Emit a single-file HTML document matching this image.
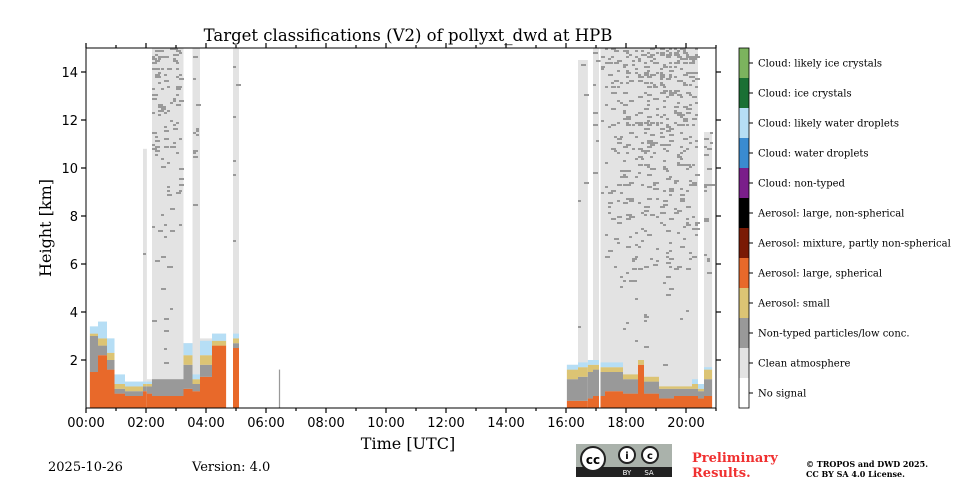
<!DOCTYPE html>
<html><head><meta charset="utf-8"><style>
body{margin:0;background:#fff;width:960px;height:480px;overflow:hidden;font-family:"DejaVu Serif",serif}
</style></head><body>
<svg id="chart" width="960" height="480" xmlns="http://www.w3.org/2000/svg">
<text x="408" y="41" text-anchor="middle" font-family="DejaVu Serif, serif" font-size="16.5">Target classifications (V2) of pollyxt_dwd at HPB</text>
<g id="plot"></g>
<g id="axes"></g>
<text transform="translate(51,228) rotate(-90)" text-anchor="middle" font-family="DejaVu Serif, serif" font-size="16">Height [km]</text>
<text x="408" y="449" text-anchor="middle" font-family="DejaVu Serif, serif" font-size="16">Time [UTC]</text>
<g id="cbar"></g>
<text x="48" y="471" font-family="DejaVu Serif, serif" font-size="13">2025-10-26</text>
<text x="192" y="471" font-family="DejaVu Serif, serif" font-size="13">Version: 4.0</text>
<g>
<rect x="576" y="444" width="96" height="33" fill="#aab2ab"/>
<rect x="576" y="467" width="96" height="10" fill="#222"/>
<circle cx="593" cy="459" r="12" fill="#fff" stroke="#222" stroke-width="2"/>
<text x="593" y="464" text-anchor="middle" font-family="DejaVu Sans, sans-serif" font-weight="bold" font-size="12">cc</text>
<circle cx="627" cy="455" r="8" fill="#fff" stroke="#222" stroke-width="2"/>
<text x="627" y="459" text-anchor="middle" font-family="DejaVu Sans, sans-serif" font-weight="bold" font-size="10">i</text>
<circle cx="650" cy="455" r="8" fill="#fff" stroke="#222" stroke-width="2"/>
<text x="650" y="459" text-anchor="middle" font-family="DejaVu Sans, sans-serif" font-weight="bold" font-size="10">c</text>
<text x="627" y="475" text-anchor="middle" fill="#fff" font-family="DejaVu Sans, sans-serif" font-size="7">BY</text>
<text x="649" y="475" text-anchor="middle" fill="#fff" font-family="DejaVu Sans, sans-serif" font-size="7">SA</text>
</g>
<text x="692" y="462" fill="#f03030" font-family="DejaVu Serif, serif" font-weight="bold" font-size="13">Preliminary</text>
<text x="692" y="477" fill="#f03030" font-family="DejaVu Serif, serif" font-weight="bold" font-size="13">Results.</text>
<text x="806" y="467" font-family="DejaVu Serif, serif" font-weight="bold" font-size="8">© TROPOS and DWD 2025.</text>
<text x="806" y="477" font-family="DejaVu Serif, serif" font-weight="bold" font-size="8">CC BY SA 4.0 License.</text>
</svg>
<script>
// data: time segments (hours UTC), heights in km
const segStart=[0.13,0.4,0.7,0.95,1.3,1.9,2.03,2.2,3.25,3.55,3.8,4.2,4.9,6.43,16.03,16.4,16.73,16.9,17.15,17.3,17.9,18.4,18.6,19.1,19.6,20.2,20.4,20.6];
const segEnd=  [0.4,0.7,0.95,1.3,1.9,2.03,2.2,3.25,3.55,3.8,4.2,4.67,5.1,6.47,16.4,16.73,16.9,17.1,17.3,17.9,18.4,18.6,19.1,19.6,20.2,20.4,20.6,20.87];
const cleanTop=[3.4,3.6,2.9,1.3,1.1,10.8,1.2,15,2.7,15,2.9,3.1,15,1.6,1.8,14.5,2.0,15,15,15,15,15,15,15,15,15,0.9,11.5];
const speckle= [0,0,0,0,0,0.015,0,0.12,0,0.04,0,0,0.015,0,0,0.015,0,0.03,0.06,0.11,0.14,0.14,0.17,0.19,0.2,0.2,0,0.09];
const orangeTop=[1.5,2.2,1.6,0.6,0.5,0.7,0.6,0.5,0.8,0.7,1.3,2.6,2.5,0,0.3,0.3,0.4,0.5,0.5,0.7,0.6,1.8,0.6,0.4,0.5,0.5,0.4,0.5];
const grayTop=  [3.0,2.6,2.0,0.8,0.7,0.9,0.9,1.2,1.8,1.0,1.8,2.6,2.7,1.6,1.2,1.3,1.5,1.6,1.5,1.5,1.2,1.8,1.1,0.8,0.8,0.8,0.7,1.2];
const smallTop= [3.1,2.9,2.3,1.0,0.9,1.0,1.0,1.2,2.2,1.2,2.2,2.8,2.9,1.6,1.6,1.7,1.8,1.8,1.7,1.7,1.4,2.0,1.3,0.9,0.9,1.0,0.8,1.6];
const dropTop=  [3.4,3.6,2.9,1.4,1.1,1.1,1.1,1.2,2.7,1.4,2.8,3.1,3.1,1.6,1.8,1.9,2.0,2.0,1.9,1.9,1.4,2.0,1.3,0.9,0.9,1.2,1.0,1.7];
const yTicks=[2,4,6,8,10,12,14];
const xTickLabels=["00:00","02:00","04:00","06:00","08:00","10:00","12:00","14:00","16:00","18:00","20:00"];
const classNames=["Cloud: likely ice crystals","Cloud: ice crystals","Cloud: likely water droplets","Cloud: water droplets","Cloud: non-typed","Aerosol: large, non-spherical","Aerosol: mixture, partly non-spherical","Aerosol: large, spherical","Aerosol: small","Non-typed particles/low conc.","Clean atmosphere","No signal"];
const classColors=["#7cb35e","#1a7034","#b6def5","#3a8bd0","#7a1e8a","#000000","#7a1a05","#e8692a","#dcc474","#999999","#e3e3e3","#ffffff"];

const NS="http://www.w3.org/2000/svg";
const X0=86,X1=716,Y0=408,Y1=48;
const xs=h=>X0+(h/21)*(X1-X0);
const ys=k=>Y0-(k/15)*(Y0-Y1);
function mk(tag,attrs,parent){const e=document.createElementNS(NS,tag);for(const k in attrs)e.setAttribute(k,attrs[k]);parent.appendChild(e);return e;}
const plot=document.getElementById('plot');
function hash(a,b){let h=(a*374761393+b*668265263)^0x5bd1e995;h=Math.imul(h^(h>>>13),1274126177);h=h^(h>>>16);return (h>>>0)/4294967296;}
function band(x0,x1,k0,k1,c,name){if(k1<=k0)return;const r=mk('rect',{x:x0,y:ys(k1),width:x1-x0,height:ys(k0)-ys(k1),fill:c},plot);

}
for(let i=0;i<segStart.length;i++){
  const x0=xs(segStart[i]),x1=xs(segEnd[i]);
  band(x0,x1,0,cleanTop[i],classColors[10],'clean-atmosphere-column');
  band(x0,x1,0,orangeTop[i],classColors[7],'aerosol-large-spherical');
  band(x0,x1,orangeTop[i],grayTop[i],classColors[9],'non-typed-particles');
  band(x0,x1,grayTop[i],smallTop[i],classColors[8],'aerosol-small');
  band(x0,x1,smallTop[i],dropTop[i],classColors[2],'cloud-likely-water');
  if(speckle[i]>0){
    const g=mk('g',{},plot);
    
    
    for(let px=Math.ceil(x0);px<x1-2;px+=3){
      for(let py=Math.ceil(ys(cleanTop[i]));py<ys(dropTop[i]+0.5);py+=2){
        const rel=(ys(0)-py)/(ys(0)-ys(15));
        const p=speckle[i]*Math.pow(rel,1.8)*1.5;
        if(hash(px,py)<p) mk('rect',{x:px,y:py,width:3+(hash(py,px)<0.5?2:0),height:2,fill:'#999'},g);
      }
    }
  }
}
// axes
const ax=document.getElementById('axes');
mk('rect',{x:X0,y:Y1,width:X1-X0,height:Y0-Y1,fill:'none',stroke:'#000','stroke-width':1},ax);
yTicks.forEach(v=>{
  const y=ys(v);
  mk('line',{x1:X0-5,x2:X0,y1:y,y2:y,stroke:'#000','stroke-width':1.2},ax);
  mk('line',{x1:X1,x2:X1+5,y1:y,y2:y,stroke:'#000','stroke-width':1.2},ax);
  const t=mk('text',{x:X0-8,y:y+5,'text-anchor':'end','font-family':'DejaVu Sans, sans-serif','font-size':13},ax);t.textContent=v;
  
  
});
for(let h=0;h<=21;h++){
  const x=xs(h),L=h%2===0?5:3;
  mk('line',{x1:x,x2:x,y1:Y0,y2:Y0+L,stroke:'#000','stroke-width':1.2},ax);
  mk('line',{x1:x,x2:x,y1:Y1-L,y2:Y1,stroke:'#000','stroke-width':1.2},ax);
}
xTickLabels.forEach((s,i)=>{
  const t=mk('text',{x:xs(i*2),y:427,'text-anchor':'middle','font-family':'DejaVu Sans, sans-serif','font-size':13},ax);t.textContent=s;
  
  
});
// colorbar
const cb=document.getElementById('cbar');
const segH=(Y0-Y1)/classNames.length;
classNames.forEach((n,i)=>{
  const y=Y1+i*segH;
  const r=mk('rect',{x:739,y:y,width:10,height:segH,fill:classColors[i]},cb);
  
  
  mk('line',{x1:749,x2:753,y1:y+segH/2,y2:y+segH/2,stroke:'#000'},cb);
  const t=mk('text',{x:758,y:y+segH/2+3.5,'font-family':'DejaVu Serif, serif','font-size':10},cb);t.textContent=n;
  
  
});
mk('rect',{x:739,y:Y1,width:10,height:Y0-Y1,fill:'none',stroke:'#000','stroke-width':0.8},cb);
</script>
</body></html>
